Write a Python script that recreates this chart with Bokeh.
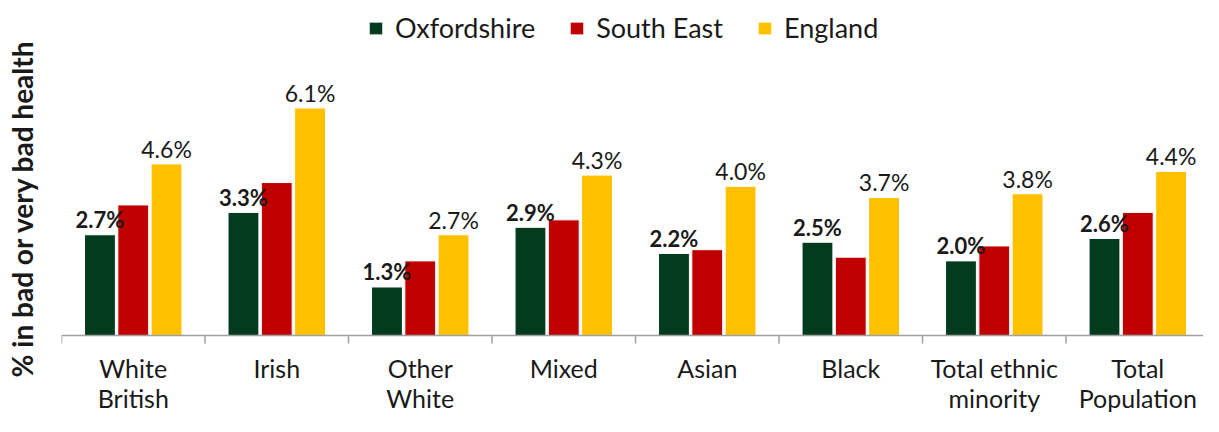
from bokeh.plotting import figure
from bokeh.models import (ColumnDataSource, Range1d, FixedTicker, Legend,
                          LegendItem, Span)
from bokeh.transform import dodge
from bokeh.core.properties import value
from bokeh.embed import file_html
from bokeh.resources import INLINE

# ---------------- data ----------------
categories = ["White British", "Irish", "Other White", "Mixed", "Asian",
              "Black", "Total ethnic minority", "Total Population"]
tick_labels = ["White\nBritish", "Irish", "Other\nWhite", "Mixed", "Asian",
               "Black", "Total ethnic\nminority", "Total\nPopulation"]
series_names = ["Oxfordshire", "South East", "England"]
oxfordshire = [2.7, 3.3, 1.3, 2.9, 2.2, 2.5, 2.0, 2.6]
south_east = [3.5, 4.1, 2.0, 3.1, 2.3, 2.1, 2.4, 3.3]
england = [4.6, 6.1, 2.7, 4.3, 4.0, 3.7, 3.8, 4.4]
y_axis_title = "% in bad or very bad health"

# ---------------- style ----------------
FONT = "Lato"
TEXT = "#1a1a1a"
AXIS = "#a0a0a0"
colors = ["#033B1E", "#C00000", "#FFC000"]
OFFSET = 0.232
BAR_W = 0.215

pos = [i + 0.5 for i in range(len(categories))]
bounds = list(range(len(categories) + 1))
src = ColumnDataSource(dict(
    x=pos, lbl=tick_labels, ox=oxfordshire, se=south_east, en=england,
    ox_lbl=[f"{v:.1f}%" for v in oxfordshire],
    en_lbl=[f"{v:.1f}%" for v in england],
))

p = figure(width=1203, height=416, output_backend="svg", toolbar_location=None,
           x_range=Range1d(0, 7.958), y_range=Range1d(-2.172, 8.981),
           min_border_left=61, min_border_right=0, min_border_top=0,
           min_border_bottom=0)
p.xgrid.visible = False
p.ygrid.visible = False
p.outline_line_color = None
p.xaxis.visible = False
p.background_fill_color = "white"
p.border_fill_color = "white"

ya = p.yaxis[0]
ya.ticker = FixedTicker(ticks=[])
ya.axis_line_color = None
ya.major_tick_line_color = None
ya.minor_tick_line_color = None
ya.major_tick_out = 0
ya.major_tick_in = 0
ya.major_label_standoff = 0
ya.major_label_text_font_size = "0px"
ya.axis_label = y_axis_title
ya.axis_label_standoff = 23
ya.axis_label_text_font = FONT
ya.axis_label_text_font_style = "bold"
ya.axis_label_text_font_size = "28px"
ya.axis_label_text_color = TEXT

# baseline (x axis line) and category boundary ticks
p.add_layout(Span(location=0, dimension="width", line_color=AXIS, line_width=1.5))
p.ray(x=bounds, y=[0] * len(bounds), length=8, length_units="screen",
      angle=-90, angle_units="deg", line_color=AXIS, line_width=1.5)

# category labels under the axis line
p.text(x="x", y=0, text="lbl", source=src, text_font=value(FONT),
       text_font_size="25px", text_align="center", text_baseline="top",
       text_line_height=1.0, y_offset=18, text_color=TEXT)

renderers = []
for field, off, col in zip(["ox", "se", "en"], [-OFFSET, 0, OFFSET], colors):
    r = p.vbar(x=dodge("x", off, range=p.x_range), top=field, width=BAR_W,
               source=src, fill_color=col, line_color="white", line_width=1)
    renderers.append(r)

p.text(x=dodge("x", -OFFSET, range=p.x_range), y="ox", text="ox_lbl", source=src,
       text_font=value(FONT), text_font_style="bold", text_font_size="22px",
       text_align="center", text_baseline="alphabetic", y_offset=-15,
       text_color=TEXT)
p.text(x=dodge("x", OFFSET, range=p.x_range), y="en", text="en_lbl", source=src,
       text_font=value(FONT), text_font_size="23px",
       text_align="center", text_baseline="alphabetic", y_offset=-15,
       text_color=TEXT)

legend = Legend(items=[LegendItem(label=n, renderers=[r])
                       for n, r in zip(series_names, renderers)],
                orientation="horizontal", location=(306, 372),
                glyph_width=17, glyph_height=16, label_standoff=11, spacing=33,
                padding=0, margin=0, border_line_color=None,
                background_fill_alpha=0, label_text_font=FONT,
                label_text_font_size="27px", label_text_color=TEXT,
                label_height=16)
p.add_layout(legend)

open("out.html", "w").write(file_html(p, INLINE))
